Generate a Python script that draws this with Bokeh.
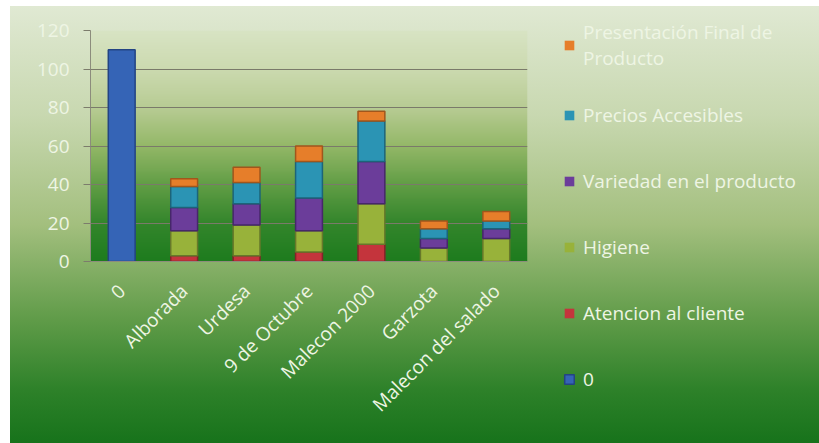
import numpy as np
from bokeh.plotting import figure
from bokeh.models import (ColumnDataSource, Range1d, FactorRange, FixedTicker,
                          Legend, LegendItem)
from bokeh.embed import file_html
from bokeh.resources import INLINE
from math import pi

# ---- data ----
categories = ["0", "Alborada", "Urdesa", "9 de Octubre", "Malecon 2000",
              "Garzota", "Malecon del salado"]
serie_0 = [110, 0, 0, 0, 0, 0, 0]
atencion = [0, 3, 3, 5, 9, 0, 0]
higiene = [0, 13, 16, 11, 21, 7, 12]
variedad = [0, 12, 11, 17, 22, 5, 5]
precios = [0, 11, 11, 19, 21, 5, 4]
presentacion = [0, 4, 8, 8, 5, 4, 5]
y_ticks = [0, 20, 40, 60, 80, 100, 120]

series_keys = ["s0", "atencion", "higiene", "variedad", "precios", "presentacion"]
series_names = ["0", "Atencion al cliente", "Higiene", "Variedad en el producto",
                "Precios Accesibles", "Presentación Final de\nProducto"]
fill_colors = ["#3564b6", "#c4343c", "#98b23a", "#6b3d9a", "#2b94b4", "#e67e2a"]
edge_colors = ["#234483", "#86222a", "#66782a", "#46276a", "#1c6479", "#a0561c"]

data = dict(cat=categories, s0=serie_0, atencion=atencion, higiene=higiene,
            variedad=variedad, precios=precios, presentacion=presentacion)
# outline only on segments that exist
for k in series_keys:
    data["a_" + k] = [1.0 if v > 0 else 0.0 for v in data[k]]
source = ColumnDataSource(data=data)

FONT = "Open Sans"
TXT = "#eef5e4"

p = figure(x_range=FactorRange(*categories), y_range=Range1d(0, 120),
           frame_width=437, frame_height=231,
           min_border_left=90, min_border_top=30, min_border_bottom=182,
           min_border_right=292,
           output_backend="svg", toolbar_location=None, tools="")

p.styles = {
    "background-color": "white",
    "background-image": "linear-gradient(to bottom, #e0e9d3 0%, #c8d8b0 25%, "
                        "#a3bf7e 50%, #5f9b48 72%, #2d8129 88%, #17731b 100%)",
    "background-position": "10px 6px",
    "background-size": "calc(100% - 10px) calc(100% - 6px)",
    "background-repeat": "no-repeat",
}
p.border_fill_color = None
p.background_fill_color = None
p.outline_line_color = None

# plot-area gradient (background image)
ys = np.linspace(0, 120, 240)
stops_y = [0, 20, 40, 60, 80, 100, 120]
stops_c = np.array([[30, 124, 30], [52, 134, 44], [98, 158, 70], [148, 184, 104],
                    [184, 204, 148], [204, 218, 176], [216, 228, 196]])
rgb = np.stack([np.interp(ys, stops_y, stops_c[:, k]) for k in range(3)], axis=1)
img = np.zeros((240, 1), dtype=np.uint32)
view = img.view(dtype=np.uint8).reshape((240, 1, 4))
view[:, 0, 0] = rgb[:, 0]
view[:, 0, 1] = rgb[:, 1]
view[:, 0, 2] = rgb[:, 2]
view[:, 0, 3] = 255
p.image_rgba(image=[img], x=0, y=0, dw=7, dh=120, level="image")

renderers = p.vbar_stack(series_keys, x="cat", width=0.43, source=source,
                         fill_color=fill_colors, line_color=edge_colors,
                         line_alpha=["a_" + k for k in series_keys],
                         line_width=1.5)

# axes
p.yaxis.ticker = FixedTicker(ticks=y_ticks)
p.yaxis.axis_line_color = "#8c8c7c"
p.yaxis.major_tick_line_color = "#7c7c6c"
p.yaxis.major_tick_out = 7
p.yaxis.major_tick_in = 0
p.yaxis.minor_tick_line_color = None
p.yaxis.major_label_text_font = FONT
p.yaxis.major_label_text_font_size = "19px"
p.yaxis.major_label_text_color = TXT
p.yaxis.major_label_standoff = 14

p.xaxis.axis_line_color = "#8c8c7c"
p.xaxis.major_tick_line_color = None
p.xaxis.minor_tick_line_color = None
p.xaxis.major_label_orientation = pi / 4
p.xaxis.major_label_text_font = FONT
p.xaxis.major_label_text_font_size = "19px"
p.xaxis.major_label_text_color = TXT
p.xaxis.major_label_standoff = 20

p.xgrid.grid_line_color = None
p.ygrid.grid_line_color = "#7a7a6a"
p.ygrid.grid_line_width = 1

items = [LegendItem(label=series_names[i], renderers=[renderers[i]])
         for i in reversed(range(len(series_keys)))]
legend = Legend(items=items, location=(36, -140), orientation="vertical",
                padding=0, margin=0, border_line_color=None,
                background_fill_alpha=0, label_text_color=TXT,
                label_text_font=FONT, label_text_font_size="19px",
                glyph_width=12, glyph_height=12, label_standoff=8,
                label_height=44, spacing=22)
p.add_layout(legend, "right")

open("out.html", "w").write(file_html(p, INLINE))
